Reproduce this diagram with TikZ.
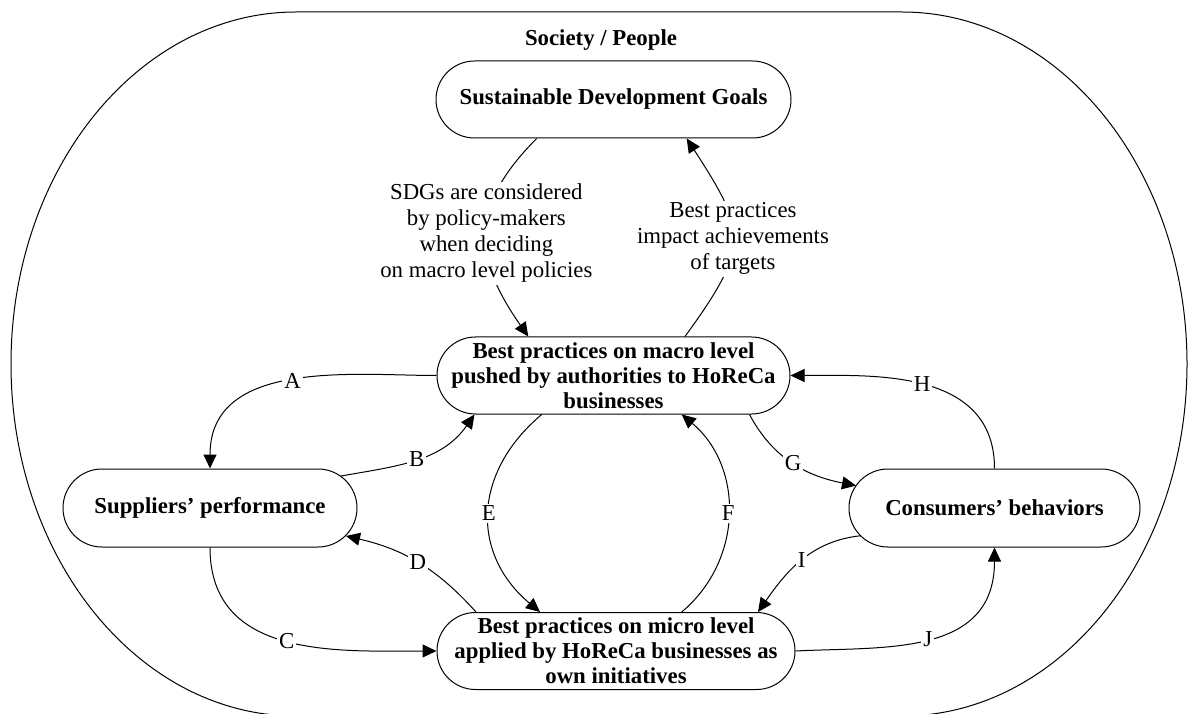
\documentclass[tikz,border=0pt]{standalone}
\usepackage{fontspec}
\setmainfont{Liberation Serif}
\usetikzlibrary{arrows.meta}

\tikzset{
  stadium/.style={draw, line width=0.5pt, rounded corners=19.25pt, minimum height=38.5pt,
    align=center, font=\fontsize{11.4}{12.5}\selectfont\bfseries, inner xsep=2pt, inner ysep=1pt},
  link/.style={line width=0.5pt, -{Triangle[length=7pt,width=6.5pt]}},
  lbl/.style={fill=white, inner sep=1pt, align=center, font=\fontsize{11.4}{13}\selectfont},
}

\begin{document}
\begin{tikzpicture}[x=0.5pt,y=0.5pt]
  \useasboundingbox (0,0) rectangle (1188,713);
  \draw[line width=0.5pt] (296,701) -- (902,701)
    arc[start angle=90,end angle=-90,x radius=285,y radius=352] -- (296,-3)
    arc[start angle=270,end angle=90,x radius=285,y radius=352] -- cycle;
  \node[font=\fontsize{11.4}{13}\selectfont\bfseries] (title) at (601,673) {Society / People};

  \node[stadium, minimum width=177.5pt] (sdg) at (613.5,613.5) {Sustainable Development Goals};
  \node[stadium, minimum width=176.5pt] (macro) at (613.5,337.5)
    {Best practices on macro level\\pushed by authorities to HoReCa\\businesses};
  \node[stadium, minimum width=179pt] (micro) at (616,62)
    {Best practices on micro level\\applied by HoReCa businesses as\\own initiatives};
  \node[stadium, minimum width=147pt, minimum height=39pt, rounded corners=19.5pt] (sup) at (210,205)
    {Suppliers' performance};
  \node[stadium, minimum width=145.5pt, minimum height=39pt, rounded corners=19.5pt] (con) at (994.5,205)
    {Consumers' behaviors};

  \draw[link] ([shift={(-76.8,0)}]sdg.south) to[out=-135,in=125,looseness=1.24]
    node[lbl]{SDGs are considered\\by policy-makers\\when deciding\\on macro level policies}
    ([shift={(-85.2,0)}]macro.north);
  \draw[link] ([shift={(71.5,0)}]macro.north) to[out=54,in=-57,looseness=1.43]
    node[lbl]{Best practices\\impact achievements\\of targets}
    ([shift={(73.2,0)}]sdg.south);

  \draw[link] (macro.west) to[out=180,in=90,out looseness=0.85,in looseness=1.15] node[lbl]{A} (sup.north);
  \draw[link] ([shift={(131,32)}]sup.center) to[out=10,in=-125] node[lbl]{B} ([shift={(-139,0)}]macro.south);
  \draw[link] (sup.south) to[out=-90,in=180,out looseness=1.15] node[lbl]{C} (micro.west);
  \draw[link] ([shift={(-140,0)}]micro.north) to[out=132,in=-13] node[lbl]{D} ([shift={(136,-28)}]sup.center);
  \draw[link] ([shift={(-71.8,0)}]macro.south) to[out=-140,in=140,looseness=1.17] node[lbl]{E} ([shift={(-76,0)}]micro.north);
  \draw[link] ([shift={(65.7,0)}]micro.north) to[out=40,in=-40,looseness=1.05] node[lbl]{F} ([shift={(68.2,0)}]macro.south);
  \draw[link] ([shift={(136,0)}]macro.south) to[out=-62,in=169] node[lbl]{G} ([shift={(-138.5,22.4)}]con.center);
  \draw[link] (con.north) to[out=90,in=0,out looseness=1.15,in looseness=0.9] node[lbl]{H} (macro.east);
  \draw[link] ([shift={(-133.5,-27.7)}]con.center) to[out=186,in=55] node[lbl]{I} ([shift={(142,0)}]micro.north);
  \draw[link] (micro.east) to[out=3,in=-90,in looseness=1.25] node[lbl]{J} (con.south);
\end{tikzpicture}
\end{document}
